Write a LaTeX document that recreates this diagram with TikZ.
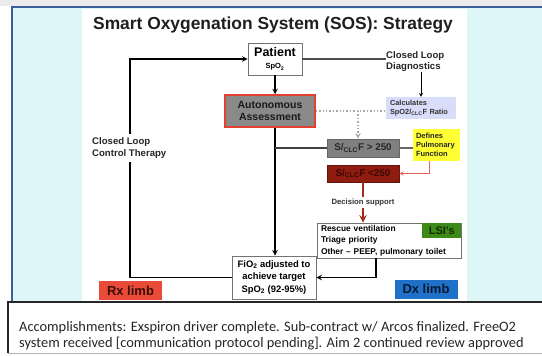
\documentclass[tikz,border=0pt]{standalone}
\usepackage{fontspec}
\setmainfont{Liberation Sans}
\newfontfamily\captionfont{Carlito}

\definecolor{slidebg}{HTML}{DFF6F8}
\definecolor{slideline}{HTML}{3A5E96}
\definecolor{topband}{HTML}{EBEBEB}
\definecolor{assessgrey}{HTML}{8A8A8A}
\definecolor{assessred}{HTML}{E2412F}
\definecolor{highgrey}{HTML}{808080}
\definecolor{lowred}{HTML}{8E1D10}
\definecolor{lowtext}{HTML}{3D0703}
\definecolor{calcblue}{HTML}{D8DDFA}
\definecolor{defyellow}{HTML}{FFFF33}
\definecolor{lsigreen}{HTML}{3D8A19}
\definecolor{lsitext}{HTML}{132A05}
\definecolor{rxred}{HTML}{E94B38}
\definecolor{rxtext}{HTML}{3B0C05}
\definecolor{dxblue}{HTML}{1F70C8}
\definecolor{dxtext}{HTML}{08182E}
\definecolor{dsred}{HTML}{A32A1C}
\definecolor{pinkline}{HTML}{E8625C}

\begin{document}
\begin{tikzpicture}[x=1pt, y=-1pt,
        box/.style={draw=black!55, fill=white, line width=0.9pt, inner sep=0pt, align=center},
        tag/.style={inner sep=0pt, align=left, font=\bfseries\fontsize{9.6}{11.5}\selectfont, text=black!85},
        ratio/.style={minimum width=72pt, inner sep=0pt, line width=0.8pt, font=\bfseries\fontsize{9.8}{11}\selectfont},
        limb/.style={inner sep=0pt, minimum width=63pt, minimum height=19pt, font=\bfseries\fontsize{13}{15}\selectfont},
        link/.style={line width=1.4pt}]
        \useasboundingbox (0,0) rectangle (542,356);
        %\draw[gray, dashed] (0,0) grid[step=20] (542,356);

        % slide
        \fill[white] (0,0) rectangle (542,356);
        \fill[topband] (0,0) rectangle (542,6);
        \fill[slidebg] (12,7) rectangle (542,302);
        \draw[slideline, line width=1.6pt] (12,302) -- (12,7) -- (542,7);
        \fill[white] (82,8.5) rectangle (467,302);

        \node[anchor=base, font=\bfseries\fontsize{17.4}{20}\selectfont, text=black!88] (title) at (273,29.5) {Smart Oxygenation System (SOS): Strategy};

        \node[box, minimum width=54pt, minimum height=32pt] (patient) at (275,59) {\fontsize{12.5}{12}\selectfont\bfseries Patient\\\fontsize{7.5}{9}\selectfont\bfseries SpO\textsubscript{2}};
        \node[box, draw=assessred, line width=1.5pt, fill=assessgrey, minimum width=90pt, minimum height=32pt, font=\bfseries\fontsize{10.5}{12.5}\selectfont, text=black!90] (assess) at (270,111) {Autonomous\\Assessment};
        \node[tag, anchor=west] (diag) at (386,61.5) {Closed Loop\\Diagnostics};
        \node[fill=calcblue, minimum width=70pt, minimum height=22pt, inner sep=0pt, text width=62pt, align=left, font=\bfseries\fontsize{7.4}{9}\selectfont, text=black!80] (calc) at (421,108) {Calculates\\SpO2/\textsubscript{CLC}F Ratio};
        \node[fill=defyellow, minimum width=47pt, minimum height=32pt, inner sep=0pt, text width=41pt, align=left, font=\bfseries\fontsize{7.5}{9}\selectfont, text=black!85] (defines) at (436.5,145) {Defines\\Pulmonary\\Function};
        \node[ratio, fill=highgrey, draw=black!60, minimum height=18pt, text=black!85] (sfhigh) at (363,148) {S/\textsubscript{CLC}F > 250};
        \node[ratio, fill=lowred, draw=lowred!70!black, minimum height=17pt, text=lowtext] (sflow) at (363,173.5) {S/\textsubscript{CLC}F <250};
        \node[box, minimum width=144pt, minimum height=35pt, text width=136pt, align=left, font=\bfseries\fontsize{8.4}{11.5}\selectfont] (lsi) at (389,240.5) {Rescue ventilation\\Triage priority\\Other -- PEEP, pulmonary toilet};
        \node[fill=lsigreen, minimum width=39pt, minimum height=15pt, inner sep=0pt, anchor=north east, font=\bfseries\fontsize{11}{12}\selectfont, text=lsitext] (lsitag) at (lsi.north east) {LSI's};
        \node[box, minimum width=84pt, minimum height=43pt, font=\bfseries\fontsize{9.4}{12.5}\selectfont] (fio2) at (274,277.5) {FiO\textsubscript{2} adjusted to\\achieve target\\SpO\textsubscript{2} (92-95\%)};

        % closed loop
        \coordinate (loopx) at (130,0);
        \draw[link, -stealth] (fio2.west) -| (loopx |- patient.west) -- (patient.west);
        \node[tag, fill=white, anchor=west, inner ysep=4pt] (control) at (92,148) {Closed Loop\\Control Therapy};

        \draw[link, -stealth] (patient.south) -- (patient.south |- assess.north);
        \draw[link, -stealth] (patient.south |- assess.south) -- (patient.south |- fio2.north);
        \draw[black!75, line width=1.1pt] (patient.south |- sfhigh.west) -- (sfhigh.west);
        \draw[black!70, line width=1.3pt] (patient.east) -- (patient.east -| diag.west);
        \draw[-stealth, line width=0.7pt] (calc.north |- diag.south) -- (calc.north);
        \draw[black!35, dotted, line width=1.4pt] (assess.east) -- (assess.east -| calc.west);
        \draw[black!35, dotted, line width=1.4pt, -stealth] ([xshift=-5pt]sfhigh.north |- assess.east) -- ([xshift=-5pt]sfhigh.north);
        \draw[black!60, line width=1.1pt] (sfhigh.east) -- (sfhigh.east -| defines.west);
        \draw[pinkline, line width=0.8pt, -stealth] ([xshift=-7pt]defines.south) |- (sflow.east);
        \draw[dsred, line width=2.2pt, -stealth] (sflow.south) -- (sflow.south |- lsi.north) node[midway, fill=white, inner sep=1.5pt, text=black!80, font=\bfseries\fontsize{7.7}{9}\selectfont] (decision) {Decision support};
        \draw[link, -stealth] ([xshift=-13pt]lsi.south) |- (fio2.east);

        \node[limb, fill=rxred, text=rxtext] (rx) at (130.5,290.5) {Rx limb};
        \node[limb, fill=dxblue, text=dxtext] (dx) at (426,289) {Dx limb};

        % caption
        \fill[white] (8,302) rectangle (542,353);
        \draw[black!85, line width=1.2pt] (8,353) -- (8,302) -- (542,302);
        \draw[black!30, line width=0.8pt] (8,353) -- (542,353);
        \node[anchor=base west, inner sep=0pt, font=\captionfont\fontsize{14.4}{16}\selectfont, text=black!85] (caption1) at (19,331) {Accomplishments: Exspiron driver complete. Sub-contract w/ Arcos finalized. FreeO2};
        \node[anchor=base west, inner sep=0pt, font=\captionfont\fontsize{14.4}{16}\selectfont, text=black!85] (caption2) at (19,347) {system received [communication protocol pending]. Aim 2 continued review approved};
    \end{tikzpicture}
\end{document}
